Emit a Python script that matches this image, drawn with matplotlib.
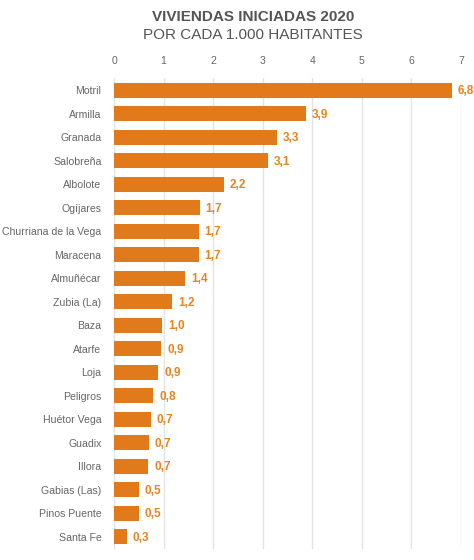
import matplotlib
matplotlib.use("Agg")
import matplotlib.pyplot as plt

plt.rcParams["font.family"] = ["Liberation Sans", "DejaVu Sans"]

municipios = ["Motril", "Armilla", "Granada", "Salobreña", "Albolote", "Ogíjares",
              "Churriana de la Vega", "Maracena", "Almuñécar", "Zubia (La)", "Baza",
              "Atarfe", "Loja", "Peligros", "Huétor Vega", "Guadix", "Illora",
              "Gabias (Las)", "Pinos Puente", "Santa Fe"]
valores = [6.81, 3.87, 3.29, 3.1, 2.22, 1.73, 1.71, 1.71, 1.43, 1.17, 0.97,
           0.95, 0.89, 0.79, 0.74, 0.7, 0.69, 0.5, 0.5, 0.26]
ticks = [0, 1, 2, 3, 4, 5, 6, 7]

W, H = 474, 560
fig = plt.figure(figsize=(W / 100, H / 100), dpi=100)
ax = fig.add_axes([114 / W, 1 - 548.5 / H, (461 - 114) / W, (548.5 - 78.5) / H])

ypos = list(range(len(municipios)))
ax.barh(ypos, valores, height=0.64, color="#E07A1A", zorder=2)
for y, v in zip(ypos, valores):
    ax.text(v + 0.12, y + 0.05, f"{v:.1f}".replace(".", ","), va="center", ha="left",
            color="#E8841F", fontsize=8.5, fontweight="bold", clip_on=False)

ax.set_ylim(len(municipios) - 0.5, -0.5)
ax.set_xlim(0, 7)
ax.set_xticks(ticks)
ax.xaxis.tick_top()
ax.set_yticks(ypos)
ax.set_yticklabels(municipios)
ax.tick_params(axis="both", length=0, colors="#666666", labelsize=7.6)
ax.tick_params(axis="x", pad=9)
ax.tick_params(axis="y", pad=9)
ax.grid(axis="x", color="#e3e3e3", linewidth=1, zorder=0)
for s in ax.spines.values():
    s.set_visible(False)

fig.text(253 / W, 1 - 17 / H, "VIVIENDAS INICIADAS 2020", ha="center", va="center",
         fontsize=11, fontweight="bold", color="#555555")
fig.text(253 / W, 1 - 35 / H, "POR CADA 1.000 HABITANTES", ha="center", va="center",
         fontsize=11, color="#555555")

fig.savefig("out.png", dpi=100, facecolor="white")
